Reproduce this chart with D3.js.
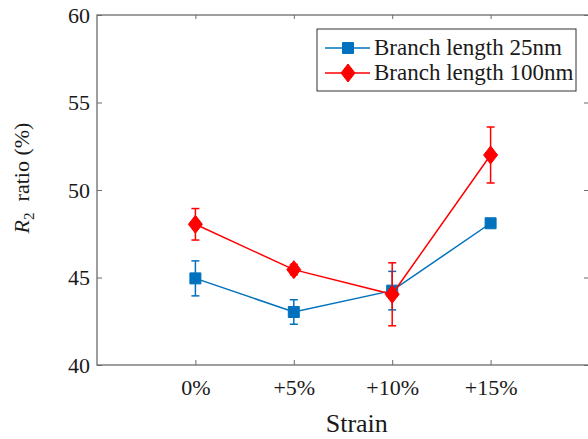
<!DOCTYPE html>
<head>
  <meta charset="utf-8">
  <script src="https://d3js.org/d3.v7.min.js"></script>
  <style>
    body { margin: 0; background: #fff; }
    svg text { font-family: "Liberation Serif", "Times New Roman", serif !important; fill: #1a1a1a; }
  </style>
</head>
<body>
  <div id="vis"></div>
  <script>
    var categories = ["0%", "+5%", "+10%", "+15%"];
    var yTicks = [40, 45, 50, 55, 60];

    var blueValues = [44.95, 43.03, 44.25, 48.1];
    var blueErrors = [1.0, 0.7, 1.1, 0];
    var redValues = [48.04, 45.45, 44.04, 52.0];
    var redErrors = [0.9, 0.3, 1.8, 1.6];

    var seriesNames = ["Branch length 25nm", "Branch length 100nm"];

    var W = 588, H = 439;
    var margin = { top: 15, right: -1, bottom: 74, left: 97 };
    var width = W - margin.left - margin.right,
        height = H - margin.top - margin.bottom;

    var axisColor = "#6b6b6b";
    var blue = "#0072BD", red = "#FF0000";
    var serif = "'Liberation Serif', 'Times New Roman', serif";

    var svg = d3.select("#vis").append("svg")
      .attr("width", W).attr("height", H)
      .style("font-family", serif);

    var g = svg.append("g")
      .attr("transform", "translate(" + margin.left + "," + margin.top + ")");

    var x = d3.scaleLinear().domain([0, 5]).range([0, width]);
    var y = d3.scaleLinear().domain([40, 60]).range([height, 0]);

    // box
    g.append("rect")
      .attr("width", width).attr("height", height)
      .attr("fill", "none").attr("stroke", axisColor).attr("stroke-width", 1.3);

    // bottom axis
    var xAxis = d3.axisBottom(x)
      .tickValues([1, 2, 3, 4])
      .tickFormat(function (d) { return categories[d - 1]; })
      .tickSizeInner(-5).tickSizeOuter(0).tickPadding(14);
    var gx = g.append("g").attr("transform", "translate(0," + height + ")").call(xAxis)
      .attr("font-family", null).attr("font-size", null);
    gx.select(".domain").remove();
    gx.selectAll("line").attr("stroke", axisColor);
    gx.selectAll("text").style("font-size", "22px").style("font-family", serif);

    // top ticks
    var gxt = g.append("g").call(d3.axisTop(x).tickValues([1, 2, 3, 4]).tickSizeInner(-4).tickSizeOuter(0).tickFormat(""));
    gxt.select(".domain").remove();
    gxt.selectAll("line").attr("stroke", axisColor);

    // left axis
    var yAxis = d3.axisLeft(y).tickValues(yTicks).tickSizeInner(-5).tickSizeOuter(0).tickPadding(7);
    var gy = g.append("g").call(yAxis)
      .attr("font-family", null).attr("font-size", null);
    gy.select(".domain").remove();
    gy.selectAll("line").attr("stroke", axisColor);
    gy.selectAll("text").style("font-size", "22px").style("font-family", serif);

    // right ticks
    var gyr = g.append("g").attr("transform", "translate(" + width + ",0)")
      .call(d3.axisRight(y).tickValues(yTicks).tickSizeInner(-5).tickSizeOuter(0).tickFormat(""));
    gyr.select(".domain").remove();
    gyr.selectAll("line").attr("stroke", axisColor);

    // axis titles
    svg.append("text")
      .attr("x", margin.left + x(2.64)).attr("y", 432)
      .attr("text-anchor", "middle").style("font-size", "26px")
      .text("Strain");

    var yl = svg.append("text")
      .attr("transform", "translate(29,178) rotate(-90)")
      .attr("text-anchor", "middle").style("font-size", "22px");
    yl.append("tspan").attr("font-style", "italic").text("R");
    yl.append("tspan").style("font-size", "15px").attr("dy", 5).text("2");
    yl.append("tspan").attr("dy", -5).text("\u00a0 ratio (%)");

    function drawSeries(values, errors, color, shape) {
      var s = g.append("g");
      var pts = values.map(function (v, i) { return { x: i + 1, v: v, e: errors[i] }; });
      s.append("path").datum(pts)
        .attr("fill", "none").attr("stroke", color).attr("stroke-width", 1.5)
        .attr("d", d3.line().x(function (d) { return x(d.x); }).y(function (d) { return y(d.v); }));
      var eb = s.selectAll(".eb").data(pts.filter(function (d) { return d.e > 0; })).enter().append("g")
        .attr("stroke", color).attr("stroke-width", 1.5);
      eb.append("line")
        .attr("x1", function (d) { return x(d.x); }).attr("x2", function (d) { return x(d.x); })
        .attr("y1", function (d) { return y(d.v + d.e); }).attr("y2", function (d) { return y(d.v - d.e); });
      eb.append("line")
        .attr("x1", function (d) { return x(d.x) - 4; }).attr("x2", function (d) { return x(d.x) + 4; })
        .attr("y1", function (d) { return y(d.v + d.e); }).attr("y2", function (d) { return y(d.v + d.e); });
      eb.append("line")
        .attr("x1", function (d) { return x(d.x) - 4; }).attr("x2", function (d) { return x(d.x) + 4; })
        .attr("y1", function (d) { return y(d.v - d.e); }).attr("y2", function (d) { return y(d.v - d.e); });
      s.selectAll(".m").data(pts).enter().append("path")
        .attr("transform", function (d) { return "translate(" + x(d.x) + "," + y(d.v) + ")"; })
        .attr("d", shape).attr("fill", color).attr("stroke", color);
    }

    var squarePath = "M-5.5,-5.5H5.5V5.5H-5.5Z";
    var diamondPath = "M0,-9L7,0L0,9L-7,0Z";

    drawSeries(blueValues, blueErrors, blue, squarePath);
    drawSeries(redValues, redErrors, red, diamondPath);

    // legend
    var lg = svg.append("g").attr("transform", "translate(317,29)");
    lg.append("rect").attr("width", 259).attr("height", 62)
      .attr("fill", "#fff").attr("stroke", "#333").attr("stroke-width", 1);
    var items = [
      { name: seriesNames[0], color: blue, shape: squarePath, y: 19 },
      { name: seriesNames[1], color: red, shape: diamondPath, y: 44 }
    ];
    items.forEach(function (it) {
      lg.append("line").attr("x1", 8).attr("x2", 53).attr("y1", it.y).attr("y2", it.y)
        .attr("stroke", it.color).attr("stroke-width", 1.5);
      lg.append("path").attr("transform", "translate(31," + it.y + ")")
        .attr("d", it.shape).attr("fill", it.color).attr("stroke", it.color);
      lg.append("text").attr("x", 57).attr("y", it.y + 7).style("font-size", "23px").text(it.name);
    });
  </script>
</body>
